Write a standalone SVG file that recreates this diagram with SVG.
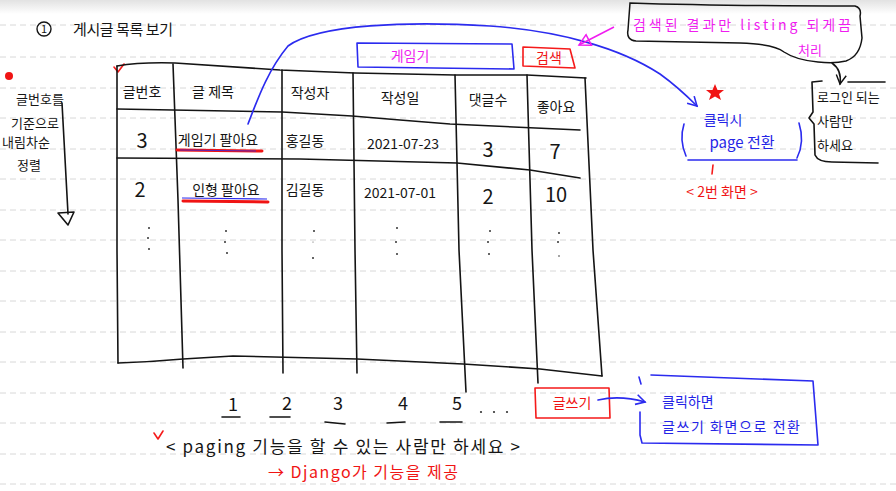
<svg xmlns="http://www.w3.org/2000/svg" width="896" height="491" viewBox="0 0 896 491">
<defs>
<linearGradient id="shade" x1="0" y1="0" x2="0" y2="1"><stop offset="0" stop-color="#e2e2e2"/><stop offset="1" stop-color="#ffffff"/></linearGradient>
<marker id="ob" viewBox="0 0 12 12" refX="10" refY="6" markerWidth="12" markerHeight="12" markerUnits="userSpaceOnUse" orient="auto"><path d="M1,1 L10,6 L1,11" fill="none" stroke="#2b2bef" stroke-width="1.6"/></marker>
<marker id="op" viewBox="0 0 14 14" refX="12" refY="7" markerWidth="14" markerHeight="14" markerUnits="userSpaceOnUse" orient="auto"><path d="M1,1 L12,7 L1,13 Z" fill="none" stroke="#f01cf0" stroke-width="1.5"/></marker>
<marker id="ok" viewBox="0 0 12 12" refX="10" refY="6" markerWidth="12" markerHeight="12" markerUnits="userSpaceOnUse" orient="auto"><path d="M1,1 L10,6 L1,11" fill="none" stroke="#111" stroke-width="1.4"/></marker>
</defs>
<style>
text{font-family:"Noto Sans CJK KR","Noto Sans",sans-serif;}
.k{fill:#151515;font-size:14px;}
.kb{fill:#151515;font-size:20px;}
.b{fill:#2424e6;font-size:14px;}
.r{fill:#f01414;font-size:13px;}
.p{fill:#f01cf0;font-size:14px;}
.ln{fill:none;stroke:#141414;stroke-width:1.6;stroke-linecap:round;stroke-linejoin:round;}
.bl{fill:none;stroke:#2b2bef;stroke-width:1.6;stroke-linecap:round;stroke-linejoin:round;}
.rd{fill:none;stroke:#f51a1a;stroke-width:1.6;stroke-linecap:round;stroke-linejoin:round;}
.dash{stroke:#d8d8d8;stroke-width:1;stroke-dasharray:6 4;}
.dot{fill:#333;}
</style>
<rect width="896" height="491" fill="#ffffff"/>
<rect width="896" height="14" fill="url(#shade)"/>
<g id="ruled-lines">
<line class="dash" x1="0" y1="25" x2="896" y2="25"/>
<line class="dash" x1="0" y1="57" x2="896" y2="57"/>
<line class="dash" x1="0" y1="88" x2="896" y2="88"/>
<line class="dash" x1="0" y1="118" x2="896" y2="118"/>
<line class="dash" x1="0" y1="149" x2="896" y2="149"/>
<line class="dash" x1="0" y1="179" x2="896" y2="179"/>
<line class="dash" x1="0" y1="210" x2="896" y2="210"/>
<line class="dash" x1="0" y1="240" x2="896" y2="240"/>
<line class="dash" x1="0" y1="271" x2="896" y2="271"/>
<line class="dash" x1="0" y1="301" x2="896" y2="301"/>
<line class="dash" x1="0" y1="332" x2="896" y2="332"/>
<line class="dash" x1="0" y1="362" x2="896" y2="362"/>
<line class="dash" x1="0" y1="393" x2="896" y2="393"/>
<line class="dash" x1="0" y1="423" x2="896" y2="423"/>
<line class="dash" x1="0" y1="454" x2="896" y2="454"/>
<line class="dash" x1="0" y1="484" x2="896" y2="484"/>
</g>

<g id="title">
<circle cx="44" cy="29" r="7" fill="none" stroke="#141414" stroke-width="1.4"/>
<text x="44" y="33" class="k" style="font-size:11px" text-anchor="middle">1</text>
<text x="73" y="35" class="k" style="font-size:15px" textLength="100" lengthAdjust="spacing">게시글 목록 보기</text>
</g>

<g id="sort-note">
<circle cx="9" cy="76" r="4" fill="#f01414"/>
<text x="16" y="104" class="k" style="font-size:13px">글번호를</text>
<text x="11" y="128" class="k" style="font-size:13px">기준으로</text>
<text x="2" y="147" class="k" style="font-size:13px">내림차순</text>
<text x="17" y="170" class="k" style="font-size:13px">정렬</text>
</g>

<g id="table">
<path class="rd" d="M114,67 L118,72 L124,64" stroke-width="1.3"/>
<path class="ln" d="M117,66 Q140,62 175,63 L280,70 L355,73 L455,75 L527,75 L586,78"/>
<path class="ln" d="M117,66 L117,250 L118,363"/>
<path class="ln" d="M173,64 L178,200 L183,368"/>
<path class="ln" d="M282,70 L282,250 L283,373"/>
<path class="ln" d="M353,73 L355,250 L357,373"/>
<path class="ln" d="M455,75 L459,250 L466,392"/>
<path class="ln" d="M527,75 L532,250 L538,383"/>
<path class="ln" d="M585,78 L593,250 L602,376"/>
<path class="ln" d="M117,109 L282,112 L352,116 L400,120 L450,124 L580,130"/>
<path class="ln" d="M117,158 L300,159 L457,163 L530,170 L580,178"/>
<path class="ln" d="M118,363 Q150,362 183,359 L233,356 L357,359 L463,364 L540,369 L602,376"/>
<text x="142" y="97" class="k" text-anchor="middle">글번호</text>
<text x="213" y="97" class="k" text-anchor="middle">글 제목</text>
<text x="310" y="98" class="k" text-anchor="middle">작성자</text>
<text x="400" y="103" class="k" text-anchor="middle">작성일</text>
<text x="488" y="105" class="k" text-anchor="middle">댓글수</text>
<text x="556" y="112" class="k" text-anchor="middle">좋아요</text>
<text x="142" y="148" class="kb" text-anchor="middle">3</text>
<text x="218" y="145" class="k" text-anchor="middle">게임기 팔아요</text>
<path d="M177,150 L262,151" stroke="#f01414" stroke-width="3" stroke-linecap="round"/>
<path d="M180,150 L256,151" stroke="#2b2bef" stroke-width="0.8"/>
<text x="305" y="146" class="k" text-anchor="middle">홍길동</text>
<text x="403" y="149" class="k" text-anchor="middle">2021-07-23</text>
<text x="488" y="157" class="kb" text-anchor="middle">3</text>
<text x="555" y="159" class="kb" text-anchor="middle">7</text>
<text x="140" y="197" class="kb" text-anchor="middle">2</text>
<text x="226" y="195" class="k" text-anchor="middle">인형 팔아요</text>
<path d="M182,198 L267,199" stroke="#2b2bef" stroke-width="1.2"/>
<path d="M183,201 L268,202" stroke="#f01414" stroke-width="3" stroke-linecap="round"/>
<text x="305" y="195" class="k" text-anchor="middle">김길동</text>
<text x="400" y="198" class="k" text-anchor="middle">2021-07-01</text>
<text x="488" y="204" class="kb" text-anchor="middle">2</text>
<text x="556" y="202" class="kb" text-anchor="middle">10</text>
<circle class="dot" cx="149" cy="228" r="1"/><circle class="dot" cx="148" cy="238" r="1"/><circle class="dot" cx="149" cy="249" r="1"/>
<circle class="dot" cx="226" cy="231" r="1"/><circle class="dot" cx="225" cy="242" r="1"/><circle class="dot" cx="227" cy="253" r="1"/>
<circle class="dot" cx="314" cy="231" r="1"/><circle class="dot" cx="313" cy="242" r="0.5"/><circle class="dot" cx="313" cy="258" r="1"/>
<circle class="dot" cx="397" cy="228" r="1"/><circle class="dot" cx="396" cy="242" r="1"/><circle class="dot" cx="397" cy="254" r="1"/>
<circle class="dot" cx="490" cy="231" r="1"/><circle class="dot" cx="488" cy="242" r="1"/><circle class="dot" cx="489" cy="254" r="1"/>
<circle class="dot" cx="559" cy="233" r="1"/><circle class="dot" cx="558" cy="242" r="1"/><circle class="dot" cx="559" cy="256" r="0.8"/>
</g>

<g id="search-box">
<path class="bl" d="M357,43 L512,44 L514,69 L358,67 Z"/>
<text x="410" y="61" class="p" text-anchor="middle">게임기</text>
</g>

<g id="search-button">
<path class="rd" d="M523,47 L570,49 L575,68 L523,66 Z"/>
<text x="549" y="63" class="r" style="font-size:14px" text-anchor="middle">검색</text>
</g>

<g id="listing-callout">
<path d="M630,3 Q720,6 855,6 Q862,8 860,16 L862,38 Q860,56 846,61 Q834,64 818,62 Q796,60 784,52 Q774,44 740,43 L636,41 Q626,40 628,30 Z" fill="none" stroke="#141414" stroke-width="1.5"/>
<text x="633" y="30" class="p" style="font-size:14px" textLength="218" lengthAdjust="spacing">검색된 결과만 listing 되게끔</text>
<text x="810" y="55" class="p" style="font-size:13px" text-anchor="middle">처리</text>
</g>

<g id="login-note">
<path class="ln" d="M848,82 L885,82"/>
<path class="ln" d="M822,81 L812,82 L813,112 L809,118 L814,124 L815,155 Q818,162 832,162 L878,163"/>
<text x="817" y="102" class="k" style="font-size:13px">로그인 되는</text>
<text x="817" y="126" class="k" style="font-size:13px">사람만</text>
<text x="817" y="150" class="k" style="font-size:13px">하세요</text>
</g>

<g id="page-switch-note">
<path d="M715,84 L717.5,90 L724,90 L719,94 L721,100 L715,96.5 L709,100 L711,94 L706,90 L712.5,90 Z" fill="#f01414"/>
<text x="723" y="125" class="b" text-anchor="middle">클릭시</text>
<text x="742" y="148" class="b" style="font-size:15px" text-anchor="middle">page 전환</text>
<path class="bl" d="M684,124 Q679,140 686,156"/>
<path class="bl" d="M799,123 Q805,142 797,158"/>
<path class="bl" d="M688,160 L797,160"/>
<path class="rd" d="M713,165 L712,174" stroke-width="1.3"/>
<text x="722" y="197" class="r" style="font-size:14px" text-anchor="middle">&lt; 2번 화면 &gt;</text>
</g>

<g id="pagination">
<text x="233" y="411" class="k" style="font-size:18px" text-anchor="middle">1</text>
<text x="287" y="410" class="k" style="font-size:18px" text-anchor="middle">2</text>
<text x="338" y="410" class="k" style="font-size:18px" text-anchor="middle">3</text>
<text x="403" y="410" class="k" style="font-size:18px" text-anchor="middle">4</text>
<text x="457" y="410" class="k" style="font-size:18px" text-anchor="middle">5</text>
<path class="ln" d="M222,417 L240,417 M270,417 L290,417 M325,422 L345,424 M387,423 L405,422 M440,422 L462,422" stroke-width="1.3"/>
<circle class="dot" cx="481" cy="412" r="1.1"/><circle class="dot" cx="494" cy="412" r="1.1"/><circle class="dot" cx="507" cy="412" r="1.1"/>
<path class="rd" d="M154,433 L158,439 L163,431" stroke-width="1.4"/>
<text x="166" y="453" class="k" style="font-size:17px" textLength="354" lengthAdjust="spacing">&lt; paging 기능을 할 수 있는 사람만 하세요 &gt;</text>
<text x="268" y="478" class="r" style="font-size:16px" textLength="190" lengthAdjust="spacing">→ Django가 기능을 제공</text>
</g>

<g id="write-button">
<path class="rd" d="M535,388 L609,388 L610,418 L536,418 Z"/>
<text x="572" y="408" class="r" style="font-size:14px" text-anchor="middle">글쓰기</text>
</g>

<g id="write-note">
<path class="bl" d="M651,375 L813,381 L818,445 L642,443 L640,435 M639,377 L641,384 M640,412 L640,435"/>
<text x="662" y="407" class="b" style="font-size:14px">클릭하면</text>
<text x="662" y="432" class="b" style="font-size:14px" textLength="138" lengthAdjust="spacing">글쓰기 화면으로 전환</text>
</g>

<g id="connectors">
<path class="bl" d="M248,124 C258,98 268,70 288,46 C318,24 410,21 490,26 C560,31 620,48 660,74 C678,87 688,97 697,106" marker-end="url(#ob)"/>
<path d="M614,27 L579,45" fill="none" stroke="#f01cf0" stroke-width="1.5" marker-end="url(#op)"/>
<path class="ln" d="M832,63 Q842,70 840,84" stroke-width="1.4" marker-end="url(#ok)"/>
<path class="ln" d="M62,103 L68,214"/>
<path class="ln" d="M58,213 L74,212 L68,225 Z" stroke-width="1.4"/>
<path class="bl" d="M598,400 Q620,395 645,402" marker-end="url(#ob)"/>
</g>
</svg>
